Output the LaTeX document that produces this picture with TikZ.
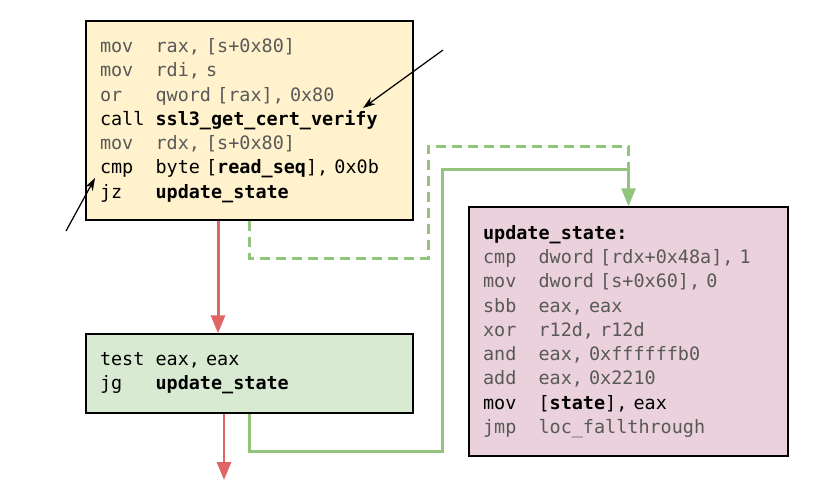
\documentclass[tikz,border=0pt]{standalone}
\usepackage{fontspec}
\setmonofont{DejaVu Sans Mono}
\usepackage{xcolor}
\usepackage{tikz}
\usetikzlibrary{arrows.meta, positioning, calc}
\definecolor{blkyellow}{HTML}{FFF2CC}
\definecolor{blkgreen}{HTML}{D9EAD3}
\definecolor{blkpink}{HTML}{EAD1DC}
\definecolor{edgered}{HTML}{E06666}
\definecolor{edgegreen}{HTML}{93C47D}
\definecolor{dimtext}{HTML}{595959}
\newcommand{\codefont}{\ttfamily\fontsize{10.5}{13.8}\selectfont\spaceskip=6.32pt\relax}
\newcommand{\op}[1]{\makebox[3.01em][l]{#1}}
\newcommand{\faint}[1]{\textcolor{dimtext}{#1}}
\tikzstyle{codeblock} = [rectangle, draw=black, line width=0.8pt, align=left, inner xsep=0.28cm, font=\codefont]
\tikzstyle{fallarrow} = [line width=1.7pt, edgered, -{Triangle[length=0.36cm, width=0.28cm]}]
\tikzstyle{jumpline} = [line width=1.7pt, edgegreen]
\tikzstyle{jumparrow} = [jumpline, -{Triangle[length=0.36cm, width=0.28cm]}]
\tikzstyle{notearrow} = [line width=0.7pt, -{Stealth[length=0.25cm, width=0.17cm]}]

\begin{document}
\begin{tikzpicture}[x=0.02cm, y=-0.02cm]
    \useasboundingbox (0,0) rectangle (830,498);
    \node (entry) [codeblock, fill=blkyellow, text width=5.98cm, minimum height=3.98cm] at (249.5,120.5) {%
        \faint{\op{mov}rax, [s+0x80]}\\
        \faint{\op{mov}rdi, s}\\
        \faint{\op{or}qword [rax], 0x80}\\
        \op{call}\textbf{ssl3\_get\_cert\_verify}\\
        \faint{\op{mov}rdx, [s+0x80]}\\
        \op{cmp}byte [\textbf{read\_seq}], 0x0b\\
        \op{jz}\textbf{update\_state}};
    \node (check) [codeblock, fill=blkgreen, text width=5.98cm, minimum height=1.58cm] at (249.5,373.5) {%
        \op{test}eax, eax\\
        \op{jg}\textbf{update\_state}};
    \node (upd) [codeblock, fill=blkpink, text width=5.82cm, minimum height=4.98cm] at (628.5,331.5) {%
        \textbf{update\_state:}\\
        \faint{\op{cmp}dword [rdx+0x48a], 1}\\
        \faint{\op{mov}dword [s+0x60], 0}\\
        \faint{\op{sbb}eax, eax}\\
        \faint{\op{xor}r12d, r12d}\\
        \faint{\op{and}eax, 0xffffffb0}\\
        \faint{\op{add}eax, 0x2210}\\
        \op{mov}[\textbf{state}], eax\\
        \faint{\op{jmp}loc\_fallthrough}};

    % jump targets
    \coordinate (jz1) at (428,258);
    \coordinate (jz2) at (428,146);
    \coordinate (jg1) at (442,451);
    \coordinate (jg2) at (442,169);
    \coordinate (exit) at (224,480);
    \coordinate (note1) at (443,50);
    \coordinate (note2) at (66,231);

    \draw[fallarrow] ([xshift=-0.63cm]entry.south) -- ([xshift=-0.63cm]check.north);
    \draw[fallarrow] (check.south -| exit) -- (exit);
    \draw[jumpline, dash pattern=on 0.2cm off 0.12cm] (entry.south) |- (jz1) -- (jz2) -| (jg2 -| upd.north);
    \draw[jumparrow] (check.south) |- (jg1) -- (jg2) -| (upd.north);

    \draw[notearrow] (note1) -- (363,108);
    \draw[notearrow] (note2) -- (95,178);
\end{tikzpicture}
\end{document}
